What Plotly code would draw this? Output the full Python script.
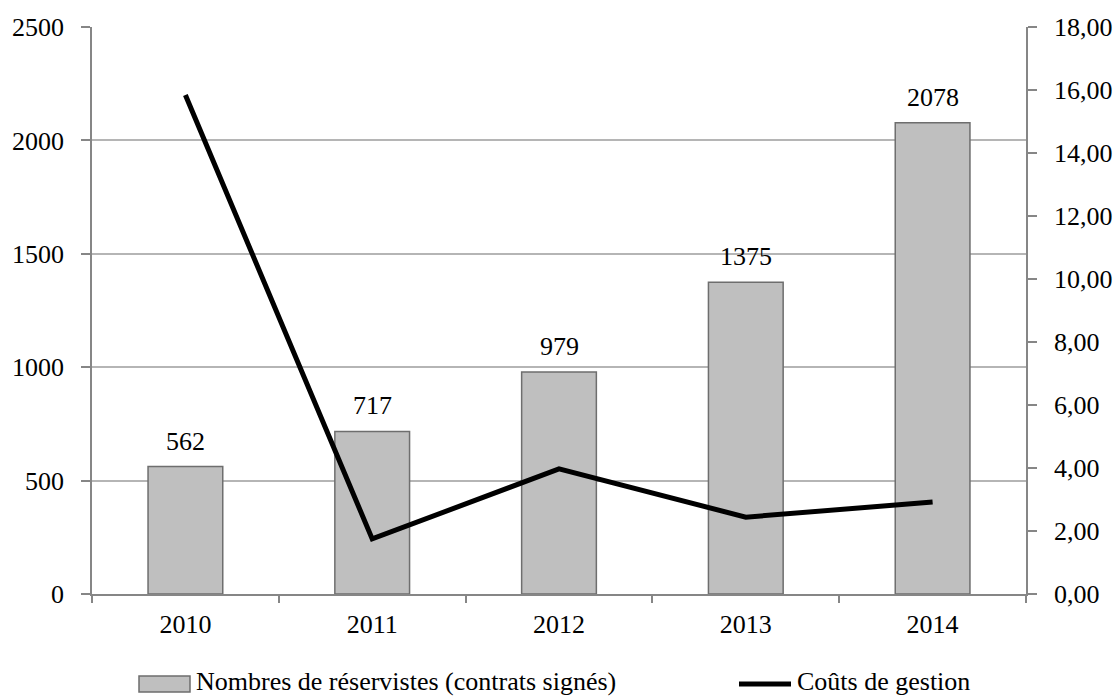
import plotly.graph_objects as go

# Data
years = ["2010", "2011", "2012", "2013", "2014"]
reservists = [562, 717, 979, 1375, 2078]
management_costs = [15.84, 1.75, 3.97, 2.44, 2.92]

bar_name = "Nombres de réservistes (contrats signés)"
line_name = "Coûts de gestion"

FONT = "Liberation Serif"
AXIS_GREY = "#868686"
GRID_GREY = "#B5B5B5"

W, H = 1114, 696
ML, MR, MT, MB = 92, 88, 27, 102
PW, PH = W - ML - MR, H - MT - MB


def px_x(px):
    return (px - ML) / PW


def px_y(py):
    return (H - MB - py) / PH


fig = go.Figure()

fig.add_trace(go.Bar(
    x=years, y=reservists, name=bar_name, width=0.4,
    marker=dict(color="#BFBFBF", line=dict(color="#6E6E6E", width=1.5)),
    showlegend=False, yaxis="y",
))

fig.add_trace(go.Scatter(
    x=years, y=management_costs, name=line_name, mode="lines",
    line=dict(color="#000000", width=5),
    showlegend=False, yaxis="y2",
))

# Value labels above the bars (category axis positioned by index)
annotations = []
for i, v in enumerate(reservists):
    annotations.append(dict(
        x=i, y=v, xref="x", yref="y", text=str(v), showarrow=False,
        yanchor="bottom", yshift=9, font=dict(family=FONT, size=26, color="#000"),
    ))

# Legend drawn below the plot
shapes = [
    dict(type="rect", xref="paper", yref="paper",
         x0=px_x(139), x1=px_x(190), y0=px_y(692), y1=px_y(676),
         fillcolor="#BFBFBF", line=dict(color="#6E6E6E", width=1.5)),
    dict(type="line", xref="paper", yref="paper",
         x0=px_x(739), x1=px_x(791), y0=px_y(684), y1=px_y(684),
         line=dict(color="#000000", width=5)),
]
annotations.append(dict(
    x=px_x(194), y=px_y(681), xref="paper", yref="paper", text=bar_name,
    showarrow=False, xanchor="left", yanchor="middle",
    font=dict(family=FONT, size=26, color="#000"),
))
annotations.append(dict(
    x=px_x(795), y=px_y(681), xref="paper", yref="paper", text=line_name,
    showarrow=False, xanchor="left", yanchor="middle",
    font=dict(family=FONT, size=26, color="#000"),
))

fig.update_layout(
    width=W, height=H, autosize=False,
    margin=dict(l=ML, r=MR, t=MT, b=MB, pad=0),
    paper_bgcolor="white", plot_bgcolor="white",
    font=dict(family=FONT, size=26, color="#000"),
    separators=", ",
    showlegend=False,
    xaxis=dict(
        type="category", categoryorder="array", categoryarray=years,
        range=[-0.5, 4.5], tickson="boundaries", ticks="outside", ticklen=7,
        tickcolor=AXIS_GREY, tickwidth=1.5, showline=True, linecolor=AXIS_GREY,
        linewidth=1.5, showgrid=False, ticklabelstandoff=6, automargin=False,
        tickfont=dict(family=FONT, size=26),
    ),
    yaxis=dict(
        range=[0, 2500], dtick=500, tickformat="d", ticks="outside", ticklen=9,
        tickcolor=AXIS_GREY, tickwidth=1.5, showline=True, linecolor=AXIS_GREY,
        linewidth=1.5, showgrid=True, gridcolor=GRID_GREY, gridwidth=1.5,
        zeroline=False, ticklabelstandoff=12, automargin=False,
        tickfont=dict(family=FONT, size=26),
    ),
    yaxis2=dict(
        range=[0, 18], dtick=2, tickformat=".2f", overlaying="y", side="right",
        ticks="outside", ticklen=9, tickcolor=AXIS_GREY, tickwidth=1.5,
        showline=True, linecolor=AXIS_GREY, linewidth=1.5, showgrid=False,
        zeroline=False, ticklabelstandoff=12, automargin=False,
        tickfont=dict(family=FONT, size=26),
    ),
    shapes=shapes,
    annotations=annotations,
)

fig.write_html("out.html")
